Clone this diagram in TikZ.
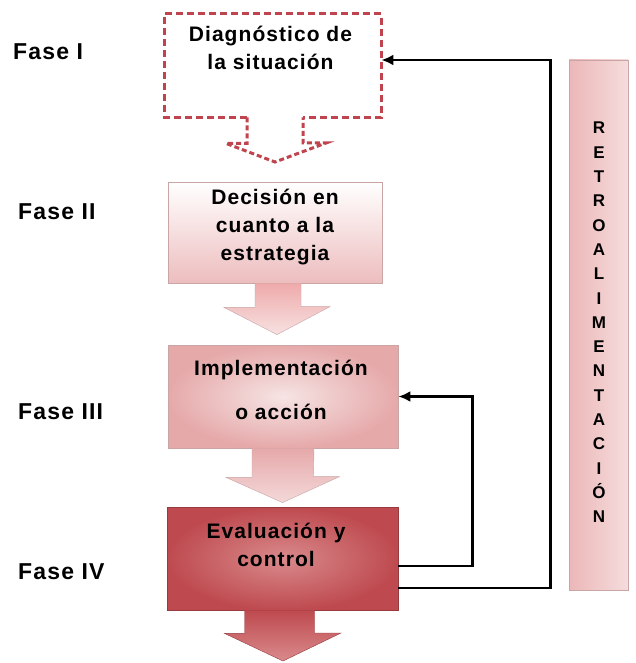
\documentclass[tikz,border=0pt]{standalone}
\usepackage{fontspec}
\setmainfont{Liberation Sans}[LetterSpace=5]
\usepackage{tikz}
\usetikzlibrary{calc, shapes, arrows.meta}
\definecolor{dashred}{HTML}{C0444E}
\definecolor{lineA}{HTML}{C9A5A5}
\definecolor{pinkA}{HTML}{EDBDBE}
\definecolor{pinkB}{HTML}{E6A9AA}
\definecolor{pinkBin}{HTML}{F6E4E4}
\definecolor{redC}{HTML}{BE4A4F}
\definecolor{redCin}{HTML}{D98A8C}
\definecolor{retroL}{HTML}{ECB7B8}
\definecolor{retroR}{HTML}{F5DCDC}

\begin{document}
\begin{tikzpicture}[x=1pt,y=-1pt]
\tikzstyle{fase}=[anchor=west,inner sep=0pt,font=\bfseries\fontsize{23}{23}\selectfont]
\tikzstyle{txt}=[align=center,inner sep=0pt,font=\bfseries\fontsize{21}{28}\selectfont]
\tikzstyle{box}=[rectangle,inner sep=0pt,line width=0.8pt]
\tikzstyle{dashbox}=[dashred,line width=3pt,dash pattern=on 7pt off 4pt]
\tikzstyle{fb}=[line width=2.8pt,-{Latex[length=12pt,width=11pt]}]
\useasboundingbox[fill=white] (0,0) rectangle (635,663);

% fases
\node[fase] (F_1) at (13,52) {Fase I};
\node[fase] (F_2) at (18,212) {Fase II};
\node[fase] (F_3) at (18,412) {Fase III};
\node[fase] (F_4) at (18,572) {Fase IV};

% cajas
\node[box,fill=white,minimum width=216pt,minimum height=103pt] (B_1) at (273,65.5) {};
\node[box,draw=lineA,top color=white,bottom color=pinkA,minimum width=214pt,minimum height=101pt] (B_2) at (275,232.5) {};
\node[box,draw=lineA,inner color=pinkBin,outer color=pinkB,minimum width=230pt,minimum height=103pt] (B_3) at (283,396.5) {};
\node[box,draw=redC!80!black,inner color=redCin,outer color=redC,minimum width=231pt,minimum height=103pt] (B_4) at (282.5,558.5) {};
\node[box,draw=lineA,left color=retroL,right color=retroR,minimum width=59pt,minimum height=530pt] (R) at (598.5,325) {};

% flechas de bloque
\draw[dashbox] ([xshift=-26pt]B_1.south) -- (B_1.south west) -- (B_1.north west)
  -- (B_1.north east) -- (B_1.south east) -- ([xshift=30pt]B_1.south);
\draw[dashbox,dash pattern=on 5pt off 3pt]
  ([xshift=-26pt]B_1.south) -- ++(0,26) -- ++(-21,0) -- (275,162) -- (326,143) -- ++(-23,0)
  -- ([xshift=30pt]B_1.south);
\draw[draw=lineA,top color=pinkA!90!red,bottom color=pinkA!45!white]
  ([xshift=-20pt]B_2.south) -- ++(0,24) -- ++(-31,0) -- ([xshift=-6pt,yshift=10pt]B_3.north)
  -- ++(53,-28) -- ++(-29,0) -- ([xshift=26pt]B_2.south);
\draw[draw=lineA,top color=pinkB,bottom color=pinkB!45!white]
  ([xshift=-31pt]B_3.south) -- ++(0,29) -- ++(-26,0) -- ([yshift=4pt]B_4.north)
  -- ++(57,-26) -- ++(-26,0) -- ([xshift=31pt]B_3.south);
\draw[draw=redC!80!black,top color=redC,bottom color=redCin]
  ([xshift=-38pt]B_4.south) -- ++(0,23) -- ++(-20,0) -- ([xshift=0.5pt]B_4.south |- 0,661)
  -- ++(58,-28) -- ++(-26.5,0) -- ([xshift=32pt]B_4.south);

% textos
\node[txt] (T_1) at (270.5,47.5) {Diagnóstico de\\la situación};
\node[txt] (T_2) at (275,227) {Decisión en\\cuanto a la\\estrategia};
\node[txt] (T_3) at (281,390) {Implementación\\[16pt]o acción};
\node[txt] (T_4) at (276,545) {Evaluación y\\control};
\node[align=center,inner sep=0pt,font=\bfseries\fontsize{17}{24.3}\selectfont] (T_R) at (599,322.5)
  {R\\E\\T\\R\\O\\A\\L\\I\\M\\E\\N\\T\\A\\C\\I\\Ó\\N};

% retroalimentacion
\draw[fb] ([yshift=-29.5pt]B_4.east) -- ++(152,0) |- ([yshift=5.5pt]B_1.east);
\draw[fb] ([yshift=-7.5pt]B_4.east) -- ++(74,0) |- (B_3.east);
\end{tikzpicture}
\end{document}
